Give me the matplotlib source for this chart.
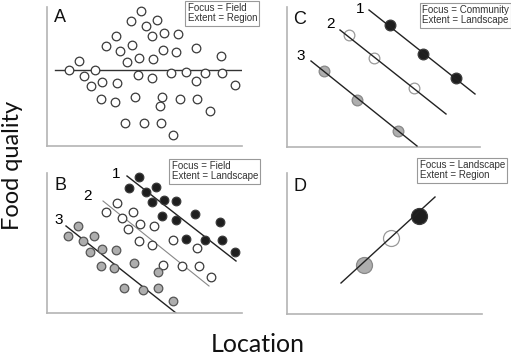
import matplotlib
matplotlib.use("Agg")
import matplotlib.pyplot as plt

# panel A: one scatter of field points (location, quality)
a_x = [94, 84, 99, 110, 69, 105, 117, 131, 59, 85, 73, 116, 129, 149, 174, 32, 80, 92, 106,
       22, 48, 37, 91, 105, 124, 139, 158, 175, 149, 44, 55, 70, 188, 54, 68, 88, 115, 113,
       133, 150, 163, 78, 97, 114, 126]
a_y = [135, 125, 120, 126, 110, 110, 113, 112, 100, 101, 95, 96, 94, 98, 90, 85, 84, 88, 87,
       76, 76, 70, 71, 68, 73, 74, 73, 73, 65, 60, 64, 63, 61, 47, 44, 49, 49, 40,
       47, 47, 35, 23, 23, 23, 11]
a_line_x = [8, 194]
a_line_y = [76, 76]

# panel B: same points split into three communities
b1_x = [92, 82, 99, 109, 105, 117, 129, 115, 129, 148, 173, 139, 158, 175, 188]
b1_y = [136, 125, 121, 126, 111, 113, 112, 97, 93, 99, 91, 74, 73, 73, 61]
b2_x = [70, 59, 86, 75, 81, 93, 107, 92, 105, 126, 150, 116, 135, 152, 164]
b2_y = [110, 101, 101, 95, 84, 89, 87, 72, 68, 73, 65, 48, 47, 47, 36]
b3_x = [31, 21, 36, 47, 43, 55, 69, 54, 67, 87, 111, 111, 77, 96, 126]
b3_y = [87, 77, 72, 77, 61, 64, 63, 47, 45, 50, 41, 25, 25, 23, 12]
b_lines = [([80, 189], [137, 52]), ([56, 162], [112, 27]), ([19, 129], [87, 0])]
b_labels = [("1", 69, 139), ("2", 41, 117), ("3", 12, 93)]

# panel C: community means
c1_x = [103, 136, 169]
c1_y = [122, 93, 69]
c2_x = [62, 87, 127]
c2_y = [112, 89, 59]
c3_x = [37, 70, 111]
c3_y = [76, 47, 16]
c_lines = [([82, 188], [137, 53]), ([53, 159], [117, 33]), ([24, 130], [86, 1])]
c_labels = [("1", 73, 138), ("2", 43, 123), ("3", 14, 91)]

# panel D: landscape means
d_x = [77, 104, 132]
d_y = [49, 76, 98]
d_line_x = [54, 148]
d_line_y = [31, 117]

BLACK = "#1e1e1e"
GRAY = "#aeaeae"
EDGE = "#3a3a3a"
SPINE = "#b4b4b4"
W, H = 511, 358


def make_panel(fig, left, bottom, w, h, letter, box_text, box_xy):
    ax = fig.add_axes([left / W, 1 - bottom / H, w / W, h / H])
    ax.set_xlim(0, w)
    ax.set_ylim(0, h)
    for s in ["top", "right"]:
        ax.spines[s].set_visible(False)
    for s in ["left", "bottom"]:
        ax.spines[s].set_color(SPINE)
        ax.spines[s].set_linewidth(1.2)
    ax.set_xticks([])
    ax.set_yticks([])
    ax.patch.set_alpha(0)
    ax.text(13, 128, letter, fontsize=13, family="Liberation Sans",
            ha="center", va="center", color="#111")
    ax.text(box_xy[0], box_xy[1], box_text, fontsize=7, family="Liberation Sans",
            ha="right", va="top", multialignment="left", color="#333",
            linespacing=1.05, clip_on=False,
            bbox=dict(boxstyle="square,pad=0.25", fc="white", ec="#999", lw=0.8))
    return ax


def dots(ax, x, y, fc, size, ec=EDGE):
    ax.plot(x, y, "o", ms=size, mfc=fc, mec=ec, mew=0.9, clip_on=False, zorder=3)


def main():
    fig = plt.figure(figsize=(W / 100, H / 100), dpi=100)

    ax = make_panel(fig, 47, 146, 195, 139, "A", "Focus = Field\nExtent = Region", (210, 143))
    ax.plot(a_line_x, a_line_y, color="#333", lw=1.0, zorder=2)
    dots(ax, a_x, a_y, "white", 6.2)

    ax = make_panel(fig, 47, 313, 195, 140, "B", "Focus = Field\nExtent = Landscape", (211, 152))
    for (lx, ly), col, lw in zip(b_lines, ["#222", "#888", "#222"], [1.0, 0.8, 1.0]):
        ax.plot(lx, ly, color=col, lw=lw, zorder=2)
    dots(ax, b1_x, b1_y, BLACK, 6.2)
    dots(ax, b2_x, b2_y, "white", 6.2)
    dots(ax, b3_x, b3_y, GRAY, 6.2, ec="#555")
    for t, x, y in b_labels:
        ax.text(x, y, t, fontsize=11, family="Liberation Sans", ha="center", va="center")

    ax = make_panel(fig, 287, 147, 193, 140, "C", "Focus = Community\nExtent = Landscape", (222, 142))
    for lx, ly in c_lines:
        ax.plot(lx, ly, color="#222", lw=1.0, zorder=4)
    dots(ax, c1_x, c1_y, BLACK, 7.7)
    dots(ax, c2_x, c2_y, "white", 7.7, ec="#999")
    dots(ax, c3_x, c3_y, GRAY, 7.7, ec="#888")
    for t, x, y in c_labels:
        ax.text(x, y, t, fontsize=11, family="Liberation Sans", ha="center", va="center")

    ax = make_panel(fig, 287, 314, 195, 141, "D", "Focus = Landscape\nExtent = Region", (218, 154))
    ax.plot(d_line_x, d_line_y, color="#222", lw=1.0, zorder=4)
    dots(ax, [d_x[0]], [d_y[0]], GRAY, 11.5, ec="#888")
    dots(ax, [d_x[1]], [d_y[1]], "white", 11.5, ec="#999")
    dots(ax, [d_x[2]], [d_y[2]], BLACK, 11.5)

    fig.text(13 / W, 1 - 165 / H, "Food quality", rotation=90, fontsize=17, family="Lato",
             ha="center", va="center", color="#111")
    fig.text(258 / W, 1 - 345 / H, "Location", fontsize=18, family="Lato",
             ha="center", va="center", color="#111")

    fig.savefig("out.png", dpi=100)


if __name__ == "__main__":
    main()
